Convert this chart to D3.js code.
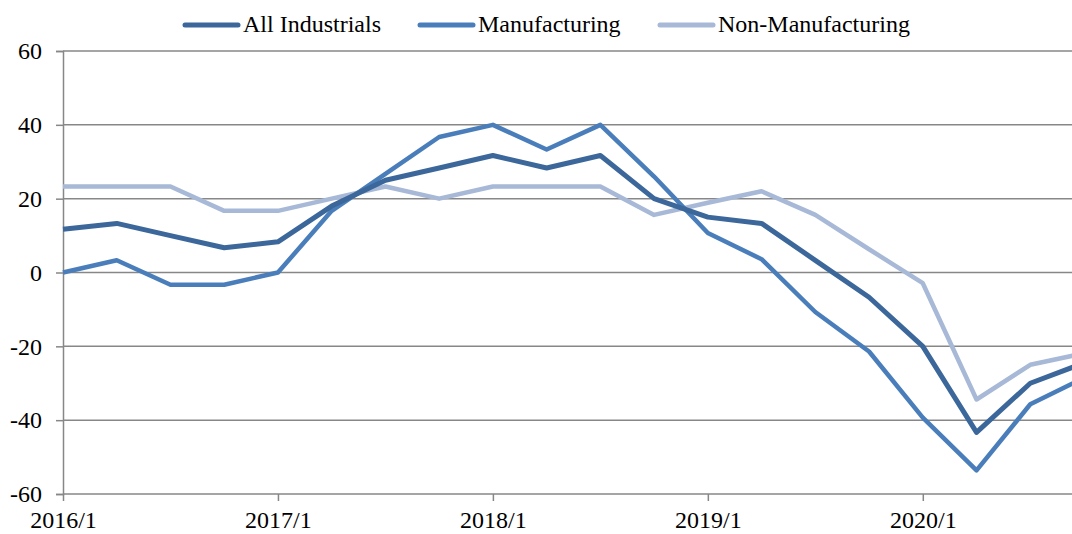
<!DOCTYPE html>
<html lang="en">
<head>
    <meta charset="UTF-8">
    <title>Industrials DI</title>
    <style>
        html, body { margin: 0; padding: 0; background: #fff; }
        svg { display: block; font-family: "Liberation Serif", "Times New Roman", serif; }
    </style>
</head>
<body>
    <div class="box"></div>
    <script src="https://d3js.org/d3.v7.min.js"></script>
    <script>
        // data
        const quarters = ['2016/1', '2016/2', '2016/3', '2016/4', '2017/1', '2017/2', '2017/3', '2017/4',
            '2018/1', '2018/2', '2018/3', '2018/4', '2019/1', '2019/2', '2019/3', '2019/4',
            '2020/1', '2020/2', '2020/3', '2020/4'];
        const allIndustrials = [11.7, 13.3, 10.0, 6.7, 8.3, 18.0, 25.0, 28.3, 31.7, 28.3, 31.7, 20.0,
            15.0, 13.3, 3.3, -6.7, -20.0, -43.3, -30.0, -24.5];
        const manufacturing = [0, 3.3, -3.3, -3.3, 0, 16.7, 26.7, 36.7, 40.0, 33.3, 40.0, 26.0,
            10.7, 3.6, -10.7, -21.4, -39.3, -53.6, -35.7, -28.5];
        const nonManufacturing = [23.3, 23.3, 23.3, 16.7, 16.7, 20.0, 23.3, 20.0, 23.3, 23.3, 23.3, 15.6,
            18.9, 22.0, 15.6, 6.3, -2.9, -34.4, -25.0, -21.9];
        const seriesNames = ['All Industrials', 'Manufacturing', 'Non-Manufacturing'];
        const yTicks = [-60, -40, -20, 0, 20, 40, 60];

        const width = 1072, height = 534;
        const margin = { top: 51, left: 63, bottom: 40 };
        const plotBottom = height - margin.bottom;
        const plotRight = 1084; // last quarter falls just outside the picture
        const fontSize = '24px';

        const svg = d3.select('.box').append('svg')
            .attr('width', width)
            .attr('height', height);

        const xScale = d3.scalePoint()
            .domain(quarters)
            .range([margin.left, plotRight]);

        const yScale = d3.scaleLinear()
            .domain([-60, 60])
            .range([plotBottom, margin.top]);

        const color = d3.scaleOrdinal()
            .domain(seriesNames)
            .range(['#3c679a', '#4a7ebb', '#a7b9d7']);

        // grid
        svg.append('g').selectAll('line').data(yTicks).join('line')
            .attr('x1', margin.left)
            .attr('x2', width)
            .attr('y1', d => yScale(d))
            .attr('y2', d => yScale(d))
            .attr('stroke', '#878787')
            .attr('stroke-width', 1.5);

        // y axis
        const yAxis = d3.axisLeft(yScale)
            .tickValues(yTicks)
            .tickFormat(d => String(d))
            .tickSize(7)
            .tickPadding(14);
        const yAxisGroup = svg.append('g')
            .attr('transform', `translate(${margin.left}, 0)`)
            .call(yAxis);
        yAxisGroup.select('.domain').attr('stroke', '#878787').attr('stroke-width', 1.5);
        yAxisGroup.selectAll('.tick line').attr('stroke', '#878787').attr('stroke-width', 1.5);
        yAxisGroup.selectAll('.tick text')
            .attr('font-size', fontSize)
            .attr('font-family', '"Liberation Serif", serif')
            .attr('fill', '#000');

        // x axis
        const xAxis = d3.axisBottom(xScale)
            .tickValues(quarters.filter(q => q.endsWith('/1')))
            .tickSize(7)
            .tickPadding(10)
            .tickSizeOuter(0);
        const xAxisGroup = svg.append('g')
            .attr('transform', `translate(0, ${plotBottom})`)
            .call(xAxis);
        xAxisGroup.select('.domain').remove();
        xAxisGroup.selectAll('.tick line').attr('stroke', '#878787').attr('stroke-width', 1.5);
        xAxisGroup.selectAll('.tick text')
            .attr('font-size', fontSize)
            .attr('font-family', '"Liberation Serif", serif')
            .attr('fill', '#000');

        // lines
        const seriesData = [allIndustrials, manufacturing, nonManufacturing];
        const line = d3.line()
            .x((d, i) => xScale(quarters[i]))
            .y(d => yScale(d));

        const widths = [5, 4.5, 4.5];
        const order = [2, 1, 0]; // dark line drawn on top
        svg.append('g').selectAll('path').data(order).join('path')
            .attr('d', i => line(seriesData[i]))
            .attr('fill', 'none')
            .attr('stroke', i => color(seriesNames[i]))
            .attr('stroke-width', i => widths[i])
            .attr('stroke-linejoin', 'round');

        // legend
        const legendX = [185, 420, 660];
        const legend = svg.append('g').selectAll('g').data(seriesNames).join('g')
            .attr('transform', (d, i) => `translate(${legendX[i]}, 25)`);
        legend.append('line')
            .attr('x1', 0)
            .attr('x2', 53)
            .attr('stroke', d => color(d))
            .attr('stroke-width', 5)
            .attr('stroke-linecap', 'round');
        legend.append('text')
            .text(d => d)
            .attr('x', 58)
            .attr('y', 7)
            .attr('font-size', fontSize)
            .attr('fill', '#000');
    </script>
</body>
</html>
